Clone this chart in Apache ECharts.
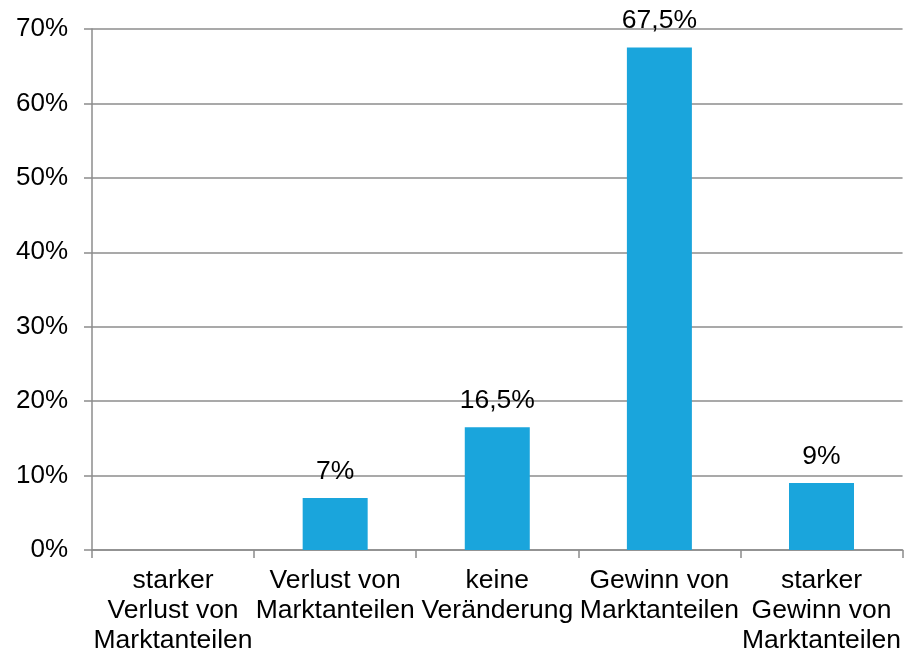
<!DOCTYPE html>
<html>
<head>
<meta charset="utf-8">
<script src="https://cdn.jsdelivr.net/npm/echarts@6/dist/echarts.min.js"></script>
<style>
  html, body { margin: 0; padding: 0; background: #fff; }
  #chart { width: 904px; height: 657px; }
</style>
</head>
<body>
<div id="chart"></div>
<script>
// Categories (German survey answers about market share)
const categories = [
  'starker\nVerlust von\nMarktanteilen',
  'Verlust von\nMarktanteilen',
  'keine\nVeränderung',
  'Gewinn von\nMarktanteilen',
  'starker\nGewinn von\nMarktanteilen'
];
// Share of responses in percent
const shares = [0, 7, 16.5, 67.5, 9];
// Y axis range and step
const yMin = 0, yMax = 70, yStep = 10;

const FONT = '"Liberation Sans", Arial, Helvetica, sans-serif';
const AXIS_GREY = '#8c8c8c';
const FS = 26.5;

const fmtPct = v => String(v).replace('.', ',') + '%';

const chart = echarts.init(document.getElementById('chart'), null, { renderer: 'canvas' });
chart.setOption({
  animation: false,
  backgroundColor: '#ffffff',
  grid: { left: 92, right: 1, top: 29, bottom: 107, containLabel: false },
  xAxis: {
    type: 'category',
    data: categories,
    boundaryGap: true,
    axisLine: { show: true, lineStyle: { color: AXIS_GREY, width: 1.5 } },
    axisTick: { show: true, length: 8, alignWithLabel: false, lineStyle: { color: AXIS_GREY, width: 1.5 } },
    axisLabel: {
      interval: 0,
      margin: 16,
      color: '#000',
      fontFamily: FONT,
      fontSize: FS,
      lineHeight: 30,
      align: 'center'
    }
  },
  yAxis: {
    type: 'value',
    min: yMin,
    max: yMax,
    interval: yStep,
    axisLine: { show: true, lineStyle: { color: AXIS_GREY, width: 1.5 } },
    axisTick: { show: true, length: 8, lineStyle: { color: AXIS_GREY, width: 1.5 } },
    splitLine: { show: true, lineStyle: { color: AXIS_GREY, width: 1.5 } },
    axisLabel: {
      margin: 24,
      color: '#000',
      fontFamily: FONT,
      fontSize: 26,
      formatter: v => v + '%'
    }
  },
  series: [{
    type: 'bar',
    data: shares,
    barWidth: 65,
    itemStyle: { color: '#1aa5dc' },
    label: {
      show: true,
      position: 'top',
      distance: 13,
      color: '#000',
      fontFamily: FONT,
      fontSize: FS,
      formatter: p => (p.value === 0 ? '' : fmtPct(p.value))
    }
  }]
});
</script>
</body>
</html>
